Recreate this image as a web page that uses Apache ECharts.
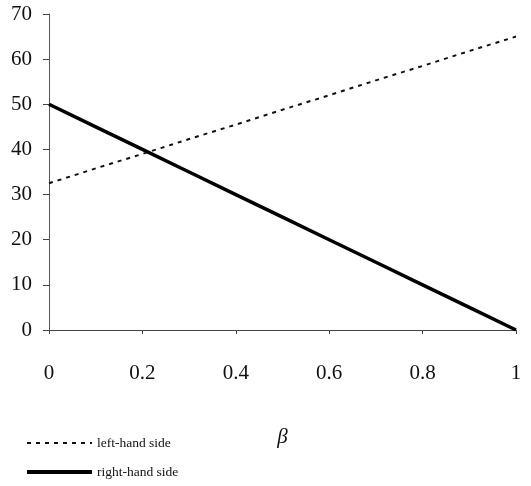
<!DOCTYPE html>
<html>
<head>
<meta charset="utf-8">
<script src="https://cdn.jsdelivr.net/npm/echarts@6/dist/echarts.min.js"></script>
<style>html,body{margin:0;padding:0;background:#fff;}#c{width:531px;height:486px;}</style>
</head>
<body>
<div id="c"></div>
<script>
const betaValues = [0, 0.1, 0.2, 0.3, 0.4, 0.5, 0.6, 0.7, 0.8, 0.9, 1];
const leftHandSide = [32.5, 35.8, 39, 42.3, 45.5, 48.8, 52, 55.3, 58.5, 61.8, 65];
const rightHandSide = [50, 45, 40, 35, 30, 25, 20, 15, 10, 5, 0];
const seriesNames = ['left-hand side', 'right-hand side'];
const xTickLabels = ['0', '0.2', '0.4', '0.6', '0.8', '1'];

const font = '"Liberation Serif", "DejaVu Serif", serif';
const chart = echarts.init(document.getElementById('c'), null, {renderer: 'canvas'});
chart.setOption({
  animation: false,
  backgroundColor: '#fff',
  grid: {left: 49, right: 15, top: 14, bottom: 156, containLabel: false},
  xAxis: {
    type: 'value', min: 0, max: 1, interval: 0.2,
    name: 'β', nameLocation: 'middle', nameGap: 97,
    nameTextStyle: {fontFamily: font, fontSize: 21, fontStyle: 'italic', color: '#111'},
    axisLine: {lineStyle: {color: '#444', width: 1}},
    axisTick: {show: true, length: 4, lineStyle: {color: '#444'}},
    splitLine: {show: false},
    axisLabel: {margin: 33, fontFamily: font, fontSize: 21, color: '#111',
      formatter: v => { const i = Math.round(v / 0.2); return xTickLabels[i] !== undefined ? xTickLabels[i] : ''; }}
  },
  yAxis: {
    type: 'value', min: 0, max: 70, interval: 10,
    axisLine: {show: true, lineStyle: {color: '#555', width: 1}},
    axisTick: {show: true, length: 6, lineStyle: {color: '#444'}},
    splitLine: {show: false},
    axisLabel: {margin: 17, fontFamily: font, fontSize: 21, color: '#111'}
  },
  legend: {
    orient: 'vertical', left: 25, top: 436, padding: 0, itemWidth: 65, itemHeight: 14, itemGap: 15,
    textStyle: {fontFamily: font, fontSize: 13.5, color: '#111'},
    itemStyle: {opacity: 0},
    data: [
      {name: seriesNames[0], lineStyle: {width: 2}},
      {name: seriesNames[1], lineStyle: {width: 4}}
    ]
  },
  series: [
    {name: seriesNames[0], type: 'line', symbol: 'none', color: '#111',
     data: betaValues.map((b, i) => [b, leftHandSide[i]]),
     lineStyle: {color: '#111', width: 2, type: [4, 5]}},
    {name: seriesNames[1], type: 'line', symbol: 'none', color: '#000',
     data: betaValues.map((b, i) => [b, rightHandSide[i]]),
     lineStyle: {color: '#000', width: 3.5}}
  ]
});
</script>
</body>
</html>
